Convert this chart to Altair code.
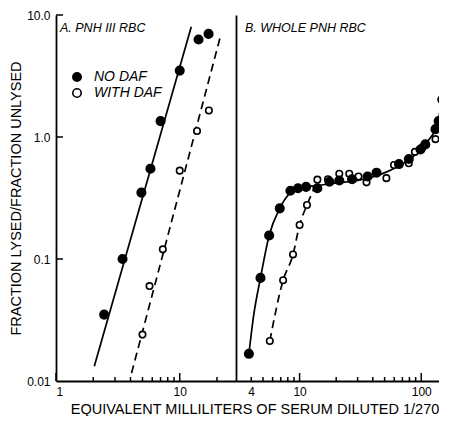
import altair as alt
import pandas as pd

FONT = "Liberation Sans"

# ---------------- Panel A: PNH III RBC ----------------
a_no_daf_x = [2.45, 3.45, 4.9, 5.8, 7.0, 10.0, 14.2, 17.1]
a_no_daf_y = [0.035, 0.10, 0.35, 0.55, 1.35, 3.5, 6.3, 7.0]
a_with_daf_x = [5.0, 5.7, 7.3, 10.0, 13.8, 17.2]
a_with_daf_y = [0.024, 0.060, 0.12, 0.53, 1.12, 1.65]
# fitted lines (end points)
a_fit_no_daf_x = [2.04, 12.4]
a_fit_no_daf_y = [0.0132, 8.0]
a_fit_with_daf_x = [4.08, 21.3]
a_fit_with_daf_y = [0.0116, 6.65]

# ---------------- Panel B: WHOLE PNH RBC ----------------
b_no_daf_x = [3.83, 4.77, 5.62, 6.87, 8.4, 9.7, 11.3, 14.0, 17.6, 21.2, 27.0,
              36.2, 42.9, 65.6, 79.0, 98.6, 108.0, 131.0, 139.0, 149.0]
b_no_daf_y = [0.0167, 0.070, 0.156, 0.26, 0.363, 0.38, 0.39, 0.38, 0.43, 0.44, 0.45,
              0.475, 0.51, 0.60, 0.66, 0.79, 0.87, 1.16, 1.35, 2.03]
b_with_daf_x = [5.69, 7.32, 8.83, 10.0, 11.5, 14.0, 17.1, 21.2, 25.6, 30.5, 35.5,
                51.7, 59.7, 79.0, 88.7, 102.0, 131.0]
b_with_daf_y = [0.0213, 0.067, 0.109, 0.19, 0.277, 0.447, 0.45, 0.50, 0.50, 0.475, 0.425,
                0.46, 0.59, 0.61, 0.755, 0.82, 0.96]
# hand-drawn curves
b_curve_no_daf_x = [3.83, 4.2, 4.77, 5.62, 6.87, 8.4, 10.0, 14.0, 20.0, 30.0, 40.0,
                    55.0, 70.0, 90.0, 110.0, 131.0, 139.0, 150.0]
b_curve_no_daf_y = [0.0167, 0.035, 0.07, 0.156, 0.26, 0.35, 0.385, 0.40, 0.42, 0.44, 0.47,
                    0.53, 0.60, 0.72, 0.90, 1.16, 1.4, 2.4]
b_curve_with_daf_x = [5.69, 7.32, 8.83, 10.0, 11.5, 13.5]
b_curve_with_daf_y = [0.0213, 0.067, 0.109, 0.19, 0.277, 0.40]

# ---------------- axes / text ----------------
series_names = ["NO DAF", "WITH DAF"]
y_tick_values = [0.01, 0.1, 1, 10]
y_tick_labels = ["0.01", "0.1", "1.0", "10.0"]
a_label_values = [1, 10]
a_major_ticks = [1, 10]
a_minor_ticks = [2, 3, 4, 5, 6, 7, 8, 9, 20]
b_label_values = [4, 10, 100]
b_major_ticks = [10, 100]
b_minor_ticks = [4, 5, 6, 7, 8, 9, 20, 30, 40, 50, 60, 70, 80, 90]
a_title = "A. PNH III RBC"
b_title = "B. WHOLE  PNH RBC"
x_title = "EQUIVALENT MILLILITERS OF SERUM DILUTED 1/270"
y_title = "FRACTION LYSED/FRACTION UNLYSED"

H = 366
A_W = 180
B_W = 203

# labelExpr for y
parts = []
for i in range(len(y_tick_values) - 1):
    thr = (y_tick_values[i] * y_tick_values[i + 1]) ** 0.5
    parts.append(f"datum.value < {thr} ? '{y_tick_labels[i]}'")
y_label_expr = " : ".join(parts) + f" : '{y_tick_labels[-1]}'"

fill_scale = alt.Scale(domain=series_names, range=["black", "white"])


def panel(xdom, width, filled_pts, open_pts, solid, dashed, major, minor, label_vals,
          title_text, left, interp):
    xs = alt.Scale(type="log", domain=xdom, nice=False)
    ys = alt.Scale(type="log", domain=[0.01, 10], nice=False)
    if left:
        xaxis = alt.Axis(values=label_vals, format="d", labelPadding=5,
                         title=x_title, titleX=198.5, titleY=32,
                         titleBaseline="alphabetic", titleAlign="center")
        yaxis = alt.Axis(values=y_tick_values, labelExpr=y_label_expr, labelPadding=6,
                         title=y_title, titlePadding=3)
        legend = alt.Legend(title=None, orient="none", legendX=14, legendY=55,
                            symbolType="circle", symbolSize=70, symbolStrokeColor="black",
                            symbolStrokeWidth=1.6, labelFont=FONT, labelFontSize=14,
                            labelFontStyle="italic", labelColor="black", labelOffset=10,
                            rowPadding=0, padding=0)
    else:
        xaxis = alt.Axis(values=label_vals, format="d", labelPadding=5, title=None)
        yaxis = alt.Axis(labels=False, title=None, domain=True)
        legend = None

    X = lambda f: alt.X(f, type="quantitative", scale=xs, axis=xaxis)
    Y = lambda f: alt.Y(f, type="quantitative", scale=ys, axis=yaxis)

    major_rule = alt.Chart(pd.DataFrame({"v": major})).mark_rule(
        color="black", strokeWidth=1.5).encode(x=X("v"), y=alt.value(H), y2=alt.value(H - 8))
    minor_rule = alt.Chart(pd.DataFrame({"v": minor})).mark_rule(
        color="black", strokeWidth=1.5).encode(x=X("v"), y=alt.value(H), y2=alt.value(H - 4))
    layers = [major_rule, minor_rule]
    if left:
        yrule = alt.Chart(pd.DataFrame({"v": y_tick_values[1:]})).mark_rule(
            color="black", strokeWidth=1.5).encode(y=Y("v"), x=alt.value(0), x2=alt.value(7))
        layers.append(yrule)

    solid_line = alt.Chart(pd.DataFrame({"x": solid[0], "y": solid[1]})).mark_line(
        color="black", strokeWidth=1.7, clip=True, interpolate=interp).encode(x=X("x"), y=Y("y"))
    dashed_line = alt.Chart(pd.DataFrame({"x": dashed[0], "y": dashed[1]})).mark_line(
        color="black", strokeWidth=1.7, strokeDash=[8, 5], clip=True,
        interpolate=interp).encode(x=X("x"), y=Y("y"))

    def pts_layer(xy, name, size):
        df = pd.DataFrame({"x": xy[0], "y": xy[1], "series": name})
        return alt.Chart(df).mark_point(
            shape="circle", filled=True, stroke="black", strokeWidth=1.6, opacity=1,
            size=size, clip=True).encode(
            x=X("x"), y=Y("y"),
            fill=alt.Fill("series:N", scale=fill_scale, legend=legend))

    title_mark = alt.Chart(pd.DataFrame({"t": [title_text]})).mark_text(
        align="left", baseline="alphabetic", font=FONT, fontSize=12.5, fontStyle="italic",
        color="black").encode(x=alt.value(4 if left else 9), y=alt.value(17), text="t:N")
    layers += [solid_line, dashed_line,
               pts_layer(open_pts, series_names[1], 42),
               pts_layer(filled_pts, series_names[0], 72),
               title_mark]
    return alt.layer(*layers).properties(width=width, height=H)


left = panel([1, 28.5], A_W, (a_no_daf_x, a_no_daf_y), (a_with_daf_x, a_with_daf_y),
             (a_fit_no_daf_x, a_fit_no_daf_y), (a_fit_with_daf_x, a_fit_with_daf_y),
             a_major_ticks, a_minor_ticks, a_label_values, a_title, True, "linear")
right = panel([3, 140], B_W, (b_no_daf_x, b_no_daf_y), (b_with_daf_x, b_with_daf_y),
              (b_curve_no_daf_x, b_curve_no_daf_y), (b_curve_with_daf_x, b_curve_with_daf_y),
              b_major_ticks, b_minor_ticks, b_label_values, b_title, False, "monotone")

chart = alt.hconcat(left, right, spacing=0, bounds="flush").resolve_legend(
    fill="independent"
).configure_view(stroke=None).configure_axis(
    domainColor="black", domainWidth=1.8, labelColor="black", labelFont=FONT,
    labelFontSize=12, ticks=False, grid=False, titleFont=FONT, titleFontSize=14.5,
    titleFontWeight="normal", titleColor="black"
).properties(padding={"left": 0, "top": 1, "right": 0, "bottom": 0}, background="white")

chart.save("out.html", embed_options={"renderer": "svg", "actions": False})
